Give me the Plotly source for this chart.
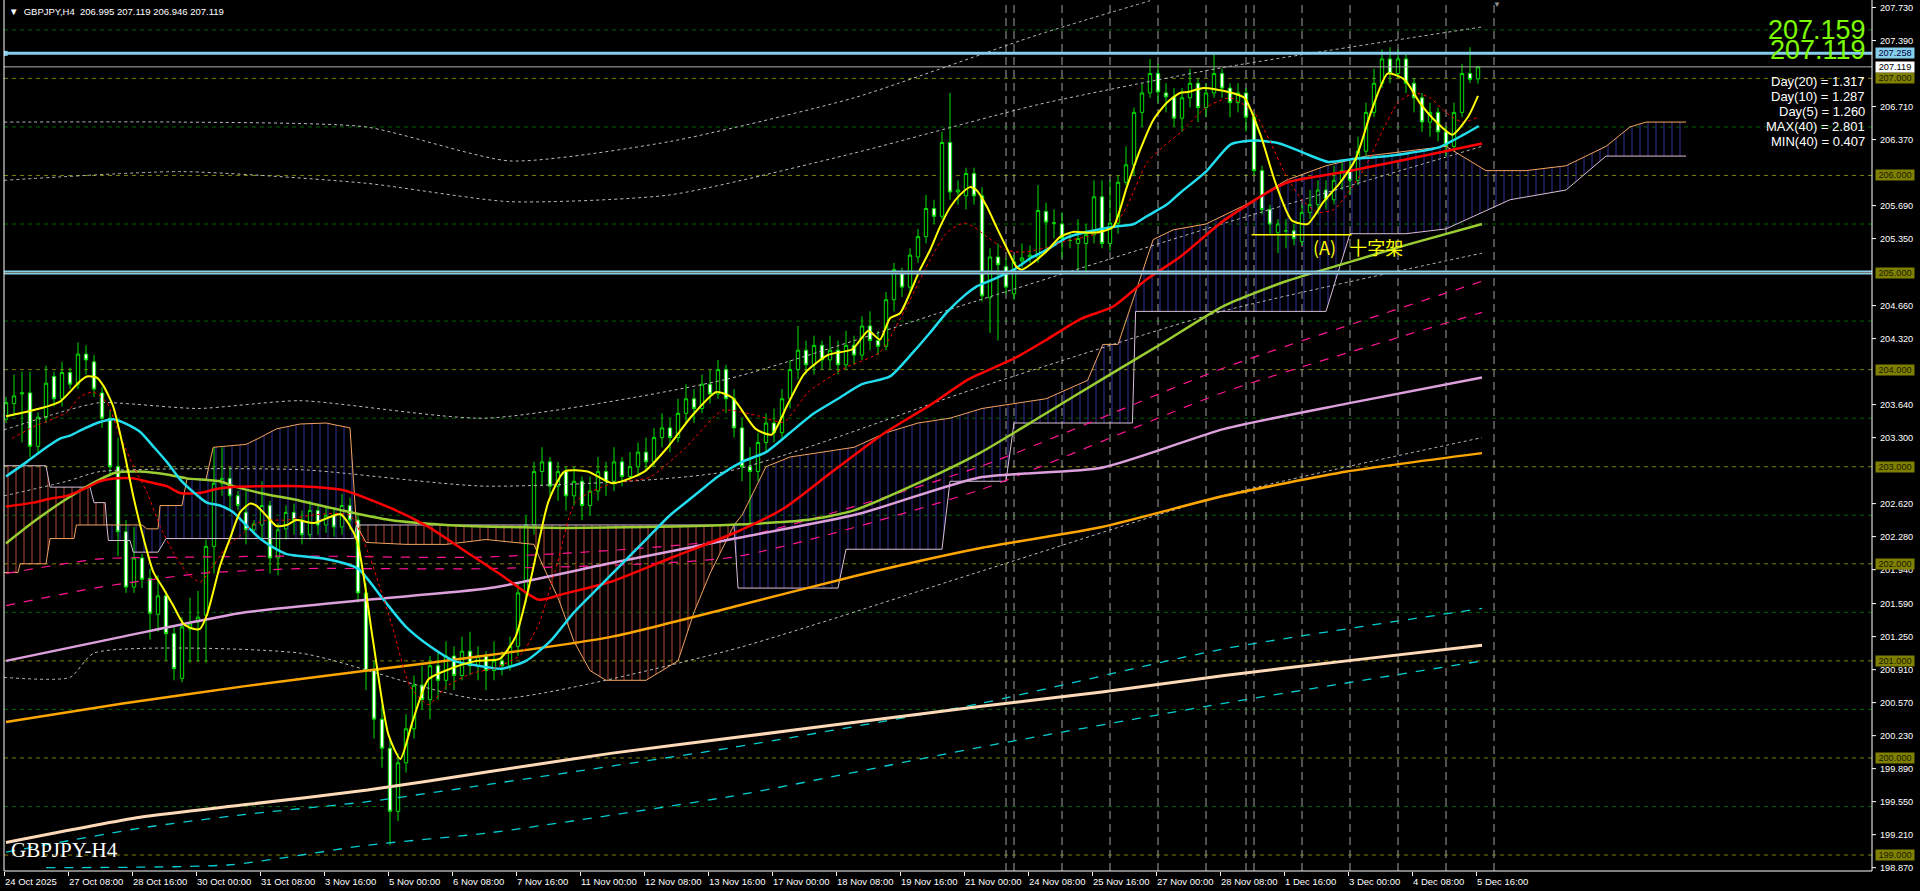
import plotly.graph_objects as go

# ---------------- candle data (bar index 0 = 24 Oct 2025 00:00, H4) ----------------
opens = [203.49,203.65,203.75,203.76,203.21,203.51,203.93,203.70,203.97,203.85,
         204.16,204.08,203.76,203.50,203.00,202.33,201.76,202.06,201.85,201.48,
         201.67,201.28,200.82,201.33,201.40,201.47,202.18,202.83,202.88,202.70,
         202.53,202.35,202.40,202.60,202.06,202.36,202.53,202.45,202.30,202.55,
         202.40,202.50,202.38,202.60,202.45,201.70,200.90,200.40,200.10,199.45,
         199.95,200.30,200.75,200.60,200.95,200.80,201.05,200.85,201.10,200.95,
         201.05,200.90,201.00,200.95,201.15,201.70,202.40,202.95,203.05,202.80,
         202.95,202.70,202.85,202.60,202.75,202.95,202.85,203.05,202.90,203.00,
         203.15,203.05,203.30,203.40,203.30,203.55,203.70,203.60,203.85,203.75,
         204.00,203.70,203.40,203.00,202.95,203.25,203.45,203.35,203.70,204.00,
         204.20,204.05,204.25,204.10,204.20,204.05,204.25,204.15,204.45,204.30,
         204.24,204.72,205.01,204.85,205.16,205.37,205.66,205.58,206.34,205.83,
         205.79,206.02,205.79,204.74,205.16,205.06,204.78,205.12,205.16,205.16,
         205.63,205.51,205.50,205.33,205.30,205.30,205.39,205.78,205.30,205.51,
         205.93,206.11,206.65,206.85,207.05,206.85,206.81,206.59,206.80,206.95,
         206.70,206.85,207.05,206.90,206.75,206.85,206.60,206.05,205.65,205.41,
         205.43,205.43,205.32,205.62,205.70,205.85,205.75,205.95,206.05,205.95,
         206.25,206.65,206.95,207.20,207.05,207.20,206.95,206.80,206.55,206.65,
         206.45,206.30,206.65,207.05,206.995]
closes = [203.66,203.73,203.76,203.21,203.51,203.86,203.70,203.97,203.85,204.16,
          204.10,203.80,203.50,203.00,202.33,201.76,202.06,201.84,201.49,201.67,
          201.28,200.92,201.35,201.38,201.45,202.18,202.83,202.88,202.70,202.60,
          202.35,202.41,202.60,202.06,202.35,202.53,202.45,202.30,202.55,202.40,
          202.50,202.38,202.60,202.45,201.70,200.90,200.40,200.10,199.45,199.95,
          200.30,200.75,200.60,200.95,200.80,201.05,200.85,201.10,200.95,201.05,
          200.90,201.00,200.95,201.15,201.70,202.40,202.95,203.05,202.80,202.95,
          202.70,202.85,202.60,202.75,202.95,202.85,203.05,202.90,203.00,203.15,
          203.05,203.30,203.40,203.30,203.55,203.70,203.60,203.85,203.75,204.00,
          203.70,203.40,203.00,202.95,203.25,203.45,203.35,203.70,204.00,204.20,
          204.05,204.25,204.10,204.20,204.05,204.25,204.15,204.45,204.30,204.24,
          204.72,205.03,204.85,205.18,205.37,205.66,205.58,206.34,205.83,205.85,
          206.02,205.79,204.76,205.16,205.08,204.85,205.11,205.15,205.18,205.64,
          205.52,205.51,205.35,205.33,205.35,205.39,205.78,205.30,205.51,205.93,
          206.11,206.65,206.85,207.05,206.86,206.81,206.59,206.80,206.95,206.70,
          206.85,207.05,206.90,206.75,206.85,206.60,206.05,205.65,205.50,205.50,
          205.43,205.35,205.62,205.70,205.85,205.75,205.95,206.05,205.95,206.25,
          206.65,206.95,207.20,207.05,207.20,206.95,206.80,206.55,206.65,206.45,
          206.30,206.65,207.05,206.99,207.119]
highs = [203.72,203.95,203.98,203.98,203.56,204.04,203.98,204.08,204.02,204.28,
         204.25,204.15,203.82,203.58,203.30,202.45,202.38,202.10,201.95,201.88,
         201.72,201.35,201.45,201.65,201.72,202.25,203.20,203.20,203.00,202.75,
         202.75,202.45,202.85,202.65,202.42,202.60,202.62,202.55,202.65,202.62,
         202.60,202.58,202.72,202.68,202.50,201.80,201.00,200.55,200.20,200.05,
         200.45,200.85,200.95,201.05,201.10,201.20,201.15,201.25,201.30,201.15,
         201.10,201.20,201.10,201.25,201.80,202.50,203.05,203.20,203.10,203.05,
         203.00,203.00,202.90,202.90,203.10,203.05,203.20,203.10,203.15,203.25,
         203.30,203.40,203.55,203.50,203.70,203.85,203.80,203.95,204.00,204.10,
         204.05,203.80,203.50,203.20,203.35,203.55,203.60,203.80,204.10,204.45,
         204.30,204.35,204.30,204.35,204.30,204.40,204.35,204.55,204.60,204.40,
         204.80,205.10,205.05,205.25,205.45,205.80,205.75,206.45,206.85,205.95,
         206.08,206.08,205.88,205.25,205.30,205.15,205.18,205.30,205.28,205.90,
         205.72,205.65,205.62,205.40,205.55,205.50,205.95,205.95,205.95,206.00,
         206.30,206.70,206.95,207.20,207.15,206.95,206.90,206.90,207.10,207.00,
         206.95,207.25,207.10,206.95,206.95,206.90,206.65,206.10,205.70,205.55,
         205.55,205.50,205.70,205.85,205.95,205.95,206.10,206.15,206.15,206.40,
         206.75,207.10,207.30,207.32,207.30,207.25,207.00,206.85,206.75,206.70,
         206.50,206.75,207.15,207.32,207.119]
lows = [203.45,203.52,203.25,203.10,203.12,203.45,203.62,203.62,203.80,203.80,
        203.95,203.72,203.40,202.90,202.08,201.70,201.70,201.75,201.22,201.30,
        201.00,200.80,200.78,200.98,200.99,200.98,201.90,202.70,202.55,202.55,
        202.20,202.30,202.25,201.90,201.88,202.25,202.30,202.20,202.25,202.30,
        202.32,202.28,202.30,202.35,201.60,200.70,200.20,199.90,199.10,199.35,
        199.85,200.20,200.50,200.40,200.60,200.70,200.70,200.80,200.85,200.80,
        200.70,200.80,200.85,200.90,201.05,201.60,202.30,202.80,202.70,202.65,
        202.55,202.60,202.45,202.50,202.65,202.70,202.75,202.80,202.85,202.90,
        202.95,203.00,203.20,203.15,203.25,203.45,203.45,203.55,203.65,203.70,
        203.55,203.30,202.85,202.40,202.85,203.15,203.25,203.30,203.60,203.90,
        203.95,203.95,204.00,204.00,203.95,204.00,204.05,204.10,204.20,204.15,
        204.20,204.60,204.75,204.78,205.10,205.30,205.50,205.55,205.75,205.70,
        205.65,205.70,204.70,204.38,204.30,204.78,204.72,205.05,205.10,205.10,
        205.20,205.35,205.15,205.25,204.98,204.98,205.30,205.25,205.22,205.40,
        205.90,206.00,206.50,206.80,206.75,206.65,206.50,206.45,206.70,206.55,
        206.60,206.80,206.80,206.60,206.65,206.45,206.00,205.60,205.40,205.20,
        205.25,205.28,205.28,205.55,205.60,205.65,205.70,205.85,205.80,205.90,
        206.20,206.60,206.90,206.95,207.00,206.85,206.65,206.45,206.40,206.35,
        206.20,206.25,206.60,206.95,206.946]

# ---------------- axes text ----------------
time_label_idx = [0, 8, 16, 24, 32, 40, 48, 56, 64, 72, 80, 88, 96, 104, 112, 120,
                  128, 136, 144, 152, 160, 168, 176, 184]
time_labels = ["24 Oct 2025", "27 Oct 08:00", "28 Oct 16:00", "30 Oct 00:00", "31 Oct 08:00",
               "3 Nov 16:00", "5 Nov 00:00", "6 Nov 08:00", "7 Nov 16:00", "11 Nov 00:00",
               "12 Nov 08:00", "13 Nov 16:00", "17 Nov 00:00", "18 Nov 08:00", "19 Nov 16:00",
               "21 Nov 00:00", "24 Nov 08:00", "25 Nov 16:00", "27 Nov 00:00", "28 Nov 08:00",
               "1 Dec 16:00", "3 Dec 00:00", "4 Dec 08:00", "5 Dec 16:00"]
price_ticks = [207.73, 207.39, 206.71, 206.37, 205.69, 205.35,
               204.66, 204.32, 203.64, 203.30, 202.62, 202.28, 201.94,
               201.59, 201.25, 200.91, 200.57, 200.23, 199.89, 199.55, 199.21, 198.87]
round_levels = [199, 200, 201, 202, 203, 204, 205, 206, 207]
half_levels = [199.5, 200.5, 201.5, 202.5, 203.5, 204.5, 205.5, 206.5, 207.5]
separator_idx = [125, 126, 132, 138, 144, 150, 155, 156, 162, 168, 174, 180, 186]

hline_blue = 207.258
hline_blue2 = 205.0
bid_price = 207.119
big_numbers = ["207.159", "207.119"]
stats_text = ["Day(20) = 1.317", "Day(10) = 1.287", "Day(5) = 1.260",
              "MAX(40) = 2.801", "MIN(40) = 0.407"]
header_text = "GBPJPY,H4  206.995 207.119 206.946 207.119"
cross_level = 205.39
cross_span = (155.7, 168.2)

# ---------------- indicator lines: (bar index, price) ----------------
ma_yellow = [(0,203.52),(1.75,203.55),(4.7,203.61),(6.75,203.67),(9.25,203.88),(10.1,203.93),
             (11.3,203.92),(12.2,203.83),(13.4,203.62),(14.7,203.18),(15.9,202.70),(17.2,202.26),
             (18.4,201.92),(19.7,201.74),(20.9,201.57),(22.2,201.38),(23.4,201.33),(24.25,201.33),
             (25.1,201.47),(25.9,201.71),(26.75,201.98),(28,202.26),(29.25,202.53),(30.5,202.62),
             (31.3,202.60),(32.6,202.49),(33.8,202.39),(35.1,202.40),(36.3,202.45),(38.5,202.42),
             (41.8,202.51),(43.8,202.26),(45.8,201.25),(47.8,200.24),(49.3,199.99),(50.8,200.37),
             (52.8,200.81),(55.9,200.93),(58.8,201.00),(61.7,201.02),(63.7,201.25),(65.7,201.88),
             (67.8,202.64),(69.8,202.95),(72.7,202.95),(75.8,202.83),(79.8,202.95),(82.7,203.20),
             (85.7,203.52),(88.8,203.77),(90.8,203.71),(93.7,203.39),(95.7,203.33),(97.7,203.64),
             (99.8,203.96),(102.7,204.15),(105.8,204.21),(107.8,204.40),(109.25,204.31),
             (110.5,204.53),(111.75,204.58),(113,204.79),(114.25,205.03),(115.5,205.23),
             (116.75,205.47),(118,205.67),(119.25,205.80),(120.5,205.88),(121.3,205.85),
             (122.6,205.68),(123.8,205.47),(125.1,205.25),(126.3,205.06),(127,205.03),
             (128.5,205.11),(130.2,205.23),(131.8,205.37),(133.5,205.42),(135.2,205.41),
             (136.8,205.42),(138.4,205.47),(140.1,205.88),(141.75,206.26),(143.4,206.57),
             (145.1,206.75),(146.75,206.85),(147.7,206.86),(149.7,206.90),(152.8,206.86),
             (154.8,206.80),(156.8,206.42),(158.7,205.92),(160.7,205.54),(162.7,205.50),
             (164.7,205.73),(166.7,205.92),(168.7,206.17),(170.7,206.67),(172.7,207.05),
             (174.8,206.99),(176.8,206.74),(178.8,206.55),(180.8,206.42),(182.8,206.61),(184,206.82)]
ma_red_dot = [(0.75,203.29),(3.4,203.41),(7.6,203.56),(9.25,203.72),(10.9,203.77),(12.6,203.66),
              (14.25,203.32),(15.9,203.01),(17.6,202.74),(19.25,202.39),(20.9,202.12),(22.6,201.91),
              (24.25,201.81),(25.9,201.98),(27.6,202.18),(29.25,202.29),(30.9,202.40),(32.6,202.45),
              (35.1,202.45),(38,202.50),(43,202.50),(45.2,202.13),(48.2,201.38),(50.5,200.74),
              (52.8,200.55),(55.1,200.74),(58.2,200.87),(61.2,200.93),(64.3,201.06),(66.6,201.38),
              (68.9,202.00),(71.2,202.64),(75.8,202.83),(80.4,202.89),(85,203.20),(89.6,203.58),
              (94.2,203.52),(97.2,203.46),(100.3,203.77),(104.9,204.02),(109.25,204.18),
              (113,204.72),(115.5,205.13),(117.6,205.41),(119.75,205.51),(121,205.47),(122.6,205.37),
              (125.1,205.23),(127.2,205.21),(130.2,205.26),(132.6,205.33),(135.2,205.37),
              (138.4,205.47),(140.1,205.68),(142.6,206.13),(144.7,206.30),(146.75,206.44),
              (150,206.70),(153,206.80),(156,206.65),(158,206.35),(160,206.00),(162,205.75),
              (164,205.62),(166,205.65),(168,205.85),(170,206.10),(172,206.45),(174,206.75),
              (176,206.85),(178,206.80),(180,206.65),(182,206.55),(184,206.60)]
ma_cyan = [(0,202.90),(2.6,203.05),(4.7,203.18),(6.75,203.29),(8,203.32),(9.7,203.39),
           (11.75,203.46),(13.4,203.49),(15.1,203.44),(16.75,203.36),(18.4,203.21),(20.1,203.05),
           (21.75,202.87),(23.4,202.74),(25.1,202.63),(26.75,202.60),(28.4,202.53),(30.1,202.39),
           (31.75,202.26),(33.4,202.17),(35.1,202.10),(36.75,202.08),(40,202.05),(44,201.95),
           (47,201.65),(50,201.35),(53,201.15),(56,201.00),(59,200.95),(62,200.92),(65,201.00),
           (68,201.20),(71,201.50),(74,201.75),(77,202.00),(80,202.25),(83,202.50),(86,202.70),
           (89,202.90),(92,203.05),(95,203.15),(98,203.35),(101,203.55),(104,203.70),(107,203.85),
           (110.5,203.93),(113.4,204.18),(115.5,204.38),(117.6,204.59),(119.75,204.76),
           (121.4,204.86),(123.4,204.93),(126,205.03),(128.1,205.15),(130.2,205.24),(132.6,205.36),
           (135.2,205.42),(138.4,205.47),(141,205.50),(142.6,205.58),(145.1,205.70),(146.75,205.82),
           (150,206.04),(153.1,206.32),(156.1,206.36),(159.2,206.33),(162.3,206.23),(165.3,206.14),
           (168.4,206.17),(171.4,206.19),(175.3,206.23),(179.1,206.29),(182.2,206.42),(184.1,206.51)]
ma_red = [(0,202.59),(3.4,202.63),(5.5,202.67),(7.6,202.70),(9.7,202.77),(11.75,202.85),
          (13.8,202.88),(15.9,202.88),(18,202.84),(20.1,202.80),(21.75,202.73),(24.25,202.73),
          (26.3,202.77),(28.4,202.79),(32.6,202.80),(36.75,202.80),(42.1,202.76),(48.2,202.57),
          (52.8,202.38),(57.4,202.13),(62,201.88),(66.6,201.63),(69.7,201.69),(75.8,201.82),
          (83.4,202.07),(91.1,202.32),(97.2,202.57),(103.3,202.95),(109.5,203.33),(115.6,203.64),
          (120.3,203.90),(125.9,204.11),(130.1,204.31),(134.3,204.52),(138.4,204.65),(142.6,204.93),
          (146.75,205.16),(152.3,205.54),(159.9,205.92),(167.6,206.04),(175.3,206.17),(184.5,206.33)]
ma_lime = [(0,202.21),(3.4,202.43),(7.6,202.67),(11.75,202.87),(13.8,202.94),(16.75,202.95),
           (20.1,202.92),(22.6,202.88),(26.75,202.85),(28.4,202.80),(31.75,202.73),(36.75,202.65),
           (42,202.55),(48,202.45),(55,202.40),(62,202.38),(70,202.37),(80,202.38),(90,202.40),
           (100,202.45),(106,202.55),(114,202.83),(121.7,203.14),(129.4,203.52),(137,203.90),
           (144.7,204.28),(152.3,204.66),(160,204.91),(167.6,205.10),(175.3,205.29),(184.5,205.50)]
ma_plum = [(0,201.00),(14.6,201.25),(29.9,201.50),(45.2,201.63),(60.5,201.75),(75.8,202.01),
           (91.1,202.26),(106.4,202.51),(121.7,202.89),(137,202.99),(152.3,203.39),(167.6,203.65),
           (184.5,203.92)]
ma_orange = [(0,200.37),(14.6,200.56),(29.9,200.74),(45.2,200.90),(60.5,201.06),(75.8,201.25),
             (91.1,201.56),(106.4,201.88),(121.7,202.16),(137,202.38),(152.3,202.70),(167.6,202.95),
             (184.5,203.14)]
ma_bisque = [(0,199.13),(16.75,199.39),(30,199.52),(45.2,199.67),(60.5,199.86),(75.8,200.05),
             (91.1,200.21),(106.4,200.37),(121.7,200.53),(137,200.68),(152.3,200.85),(167.6,201.00),
             (184.5,201.16)]
env_cyan_upper = [(0,199.03),(17,199.28),(30,199.42),(45.2,199.55),(60.5,199.73),(91,200.11),
                  (121.7,200.56),(152,201.12),(184.5,201.54)]
env_cyan_lower = [(5,198.87),(28,198.90),(45,199.10),(60.5,199.23),(91,199.61),(121.7,200.11),
                  (152,200.56),(184.5,201.00)]
env_pink_upper = [(0,201.90),(11.75,202.05),(24.25,202.07),(36.75,202.08),(60,202.07),(91,202.26),
                  (121.7,203.00),(152.3,204.02),(184.5,204.91)]
env_pink_lower = [(0,201.57),(11.75,201.76),(24.25,201.90),(36.75,201.95),(60,201.95),(91,202.07),
                  (121.7,202.76),(152.3,203.77),(184.5,204.59)]
gray_bands = [
    [(-0.25,206.55),(22,206.55),(45,206.50),(63,206.15),(83,206.35),(106,206.80),(129,207.45),(143,207.80)],
    [(-0.25,205.95),(22,206.04),(45,205.92),(63,205.73),(83,205.80),(106,206.23),(129,206.73),(152,207.11),(184.5,207.53)],
    [(-0.25,203.38),(7.6,203.58),(11.75,203.66),(24,203.60),(36.75,203.68),(60,203.50),(90,203.90),(121,204.70),(152,205.50),(184.5,206.30)],
    [(-0.25,202.70),(7.6,202.85),(11.75,202.95),(36.75,202.97),(60,202.80),(90,202.95),(121,203.80),(152,204.60),(184.5,205.20)],
    [(-0.25,200.83),(8,200.83),(11,201.08),(36.75,201.08),(60,200.60),(90,201.10),(121,201.90),(152,202.70),(184.5,203.30)],
]

# Ichimoku spans (shifted 26 bars ahead)
span_a = [(-0.25,201.91),(1.5,201.91),(1.75,202.00),(5,202.00),(5.5,202.26),(8.5,202.26),(8.8,202.40),
          (12.6,202.40),(17,202.40),(17.6,202.36),(19,202.36),(19.25,202.60),(22,202.60),(22.6,202.87),
          (25,202.87),(25.9,203.20),(30,203.23),(31.75,203.30),(33.8,203.39),(36.75,203.44),(40,203.45),
          (43,203.40),(43.8,202.40),(45,202.22),(50,202.20),(55,202.20),(60,202.25),(66,202.20),
          (67,202.00),(69,201.65),(71,201.20),(73,200.90),(75,200.80),(80,200.80),(84,201.00),
          (86,201.50),(88,201.90),(91,202.40),(92,202.50),(95,203.00),(98,203.10),(102,203.15),
          (106,203.20),(110,203.35),(114,203.45),(118,203.50),(122,203.60),(126,203.65),(130,203.70),
          (135.2,203.89),(137.1,204.26),(139,204.26),(143.4,205.34),(145.9,205.44),(150,205.50),
          (155,205.70),(160,205.95),(165,206.10),(170,206.20),(175,206.25),(180,206.30),(185,206.05),
          (190,206.05),(195,206.10),(200,206.30),(203,206.50),(205,206.55),(210,206.55)]
span_b = [(-0.25,203.01),(5,203.01),(5.5,202.79),(10.5,202.79),(11,202.63),(12.4,202.63),(12.6,202.40),
          (12.8,202.24),(15.5,202.24),(15.9,202.12),(19,202.12),(20,202.26),(25,202.26),(43.5,202.26),
          (43.8,202.40),(66,202.40),(91,202.40),(91.5,201.75),(104,201.75),(105,202.15),(117,202.15),
          (118,202.85),(125,202.85),(126,203.45),(140.8,203.45),(141.2,204.60),(155,204.60),
          (165,204.60),(168,205.40),(175,205.40),(180,205.45),(184,205.60),(188,205.75),(195,205.85),
          (200,206.20),(210,206.20)]
cloud_bear_ranges = [(-0.25, 12.6), (43.8, 91.0)]
cloud_bull_ranges = [(12.6, 43.8), (91.0, 210.0)]

# ---------------- geometry helpers (pixels -> paper) ----------------
W, H = 1920, 891
PL, PR, PB = 4, 1872, 871
def pxx(px):
    return (px - PL) / (PR - PL)
def pxy(py):
    return 1 - py / PB

GREEN = "#00E000"
fig = go.Figure()

def xs(pts): return [p[0] for p in pts]
def ys(pts): return [p[1] for p in pts]
def seg(pts, a, b): return [p for p in pts if a - 1e-6 <= p[0] <= b + 1e-6]

# cloud hatching
for ranges, col in [(cloud_bear_ranges, "#A0402F"), (cloud_bull_ranges, "#2A2A8A")]:
    for a, b in ranges:
        sa, sb = seg(span_a, a, b), seg(span_b, a, b)
        fig.add_trace(go.Scatter(x=xs(sa), y=ys(sa), mode="lines", line=dict(width=0),
                                 hoverinfo="skip", showlegend=False))
        fig.add_trace(go.Scatter(x=xs(sb), y=ys(sb), mode="lines", line=dict(width=0),
                                 fill="tonexty", fillcolor="rgba(0,0,0,0)",
                                 fillpattern=dict(shape="|", size=8, solidity=0.14, fgcolor=col,
                                                  bgcolor="rgba(0,0,0,0)", fillmode="replace"),
                                 hoverinfo="skip", showlegend=False))

def line(pts, color, width, dash="solid", shape="linear"):
    fig.add_trace(go.Scatter(x=xs(pts), y=ys(pts), mode="lines",
                             line=dict(color=color, width=width, dash=dash, shape=shape, smoothing=0.6),
                             hoverinfo="skip", showlegend=False))

line(span_a, "#F4A460", 1)
line(span_b, "#D8BFD8", 1)
for g in gray_bands:
    line(g, "#BBBBBB", 1, "dot", "spline")
line(env_cyan_upper, "#00CED1", 1.3, "dash", "spline")
line(env_cyan_lower, "#00CED1", 1.3, "dash", "spline")
line(env_pink_upper, "#FF1493", 1.2, "dash", "spline")
line(env_pink_lower, "#FF1493", 1.2, "dash", "spline")
line(ma_bisque, "#FFDAB9", 3, shape="spline")
line(ma_orange, "#FFA500", 2.5, shape="spline")
line(ma_plum, "#DDA0DD", 2.5, shape="spline")
line(ma_lime, "#9ACD32", 2.5, shape="spline")
line(ma_red, "#FF0000", 2.5, shape="spline")
line(ma_cyan, "#22DDEE", 2.5, shape="spline")
line(ma_red_dot, "#FF0000", 1, "dot", "spline")
line(ma_yellow, "#FFFF00", 2, shape="spline")

# candles
fig.add_trace(go.Candlestick(
    x=list(range(len(closes))), open=opens, high=highs, low=lows, close=closes,
    increasing=dict(line=dict(color=GREEN, width=1), fillcolor="#000000"),
    decreasing=dict(line=dict(color=GREEN, width=1), fillcolor="#FFFFFF"),
    whiskerwidth=0, hoverinfo="skip", showlegend=False))

# cross annotation line
fig.add_trace(go.Scatter(x=list(cross_span), y=[cross_level, cross_level], mode="lines",
                         line=dict(color="#FFFF00", width=1.5), hoverinfo="skip", showlegend=False))
# small anchor square of the blue line
fig.add_trace(go.Scatter(x=[-0.1], y=[hline_blue], mode="markers",
                         marker=dict(symbol="square", size=5, color="#87CEEB"),
                         hoverinfo="skip", showlegend=False))

shapes = []
for lv in round_levels:
    shapes.append(dict(type="line", xref="paper", x0=0, x1=1, yref="y", y0=lv, y1=lv,
                       line=dict(color="#808000", width=1, dash="4px,4px"), layer="below"))
for lv in half_levels:
    shapes.append(dict(type="line", xref="paper", x0=0, x1=1, yref="y", y0=lv, y1=lv,
                       line=dict(color="#006400", width=1, dash="4px,4px"), layer="below"))
for sx in separator_idx:
    shapes.append(dict(type="line", xref="x", x0=sx, x1=sx, yref="paper", y0=0, y1=1,
                       line=dict(color="#A0A0A0", width=1, dash="8px,5px"), layer="below"))
shapes.append(dict(type="line", xref="paper", x0=0, x1=1, yref="y", y0=hline_blue, y1=hline_blue,
                   line=dict(color="#87CEEB", width=3)))
shapes.append(dict(type="line", xref="paper", x0=0, x1=1, yref="y", y0=hline_blue2, y1=hline_blue2,
                   line=dict(color="#87CEEB", width=4)))
shapes.append(dict(type="line", xref="paper", x0=0, x1=1, yref="y", y0=hline_blue2, y1=hline_blue2,
                   line=dict(color="#707070", width=1)))
shapes.append(dict(type="line", xref="paper", x0=0, x1=1, yref="y", y0=bid_price, y1=bid_price,
                   line=dict(color="#B0B0B0", width=1)))
# frame
shapes.append(dict(type="line", xref="paper", x0=0, x1=0, yref="paper", y0=0, y1=1,
                   line=dict(color="#FFFFFF", width=1)))
shapes.append(dict(type="line", xref="paper", x0=0, x1=1, yref="paper", y0=0, y1=0,
                   line=dict(color="#FFFFFF", width=1)))
shapes.append(dict(type="line", xref="paper", x0=1, x1=1, yref="paper", y0=0, y1=1,
                   line=dict(color="#FFFFFF", width=1)))
for p in price_ticks:
    shapes.append(dict(type="line", xref="paper", x0=1, x1=1 + 4 / (PR - PL), yref="y", y0=p, y1=p,
                       line=dict(color="#FFFFFF", width=1)))

ann = []
AF = "Liberation Sans"
for p in price_ticks:
    ann.append(dict(xref="paper", x=1, xanchor="left", xshift=6, yref="y", y=p, yanchor="middle",
                    text=f"{p:.3f}", showarrow=False, font=dict(family=AF, size=9.2, color="#FFFFFF")))
for lv in round_levels:
    ann.append(dict(xref="paper", x=1, xanchor="left", xshift=3, yref="y", y=lv, yanchor="middle",
                    text=f"{lv:.3f}", showarrow=False, bgcolor="#808000", width=38, borderpad=0,
                    font=dict(family=AF, size=9.2, color="#1A1A00")))
ann.append(dict(xref="paper", x=1, xanchor="left", xshift=3, yref="y", y=hline_blue, yanchor="middle",
                text=f"{hline_blue:.3f}", showarrow=False, bgcolor="#87CEEB", width=38, borderpad=0,
                font=dict(family=AF, size=9.2, color="#000040")))
ann.append(dict(xref="paper", x=1, xanchor="left", xshift=3, yref="y", y=bid_price, yanchor="middle",
                text=f"{bid_price:.3f}", showarrow=False, bgcolor="#FFFFFF", width=38, borderpad=0,
                font=dict(family=AF, size=9.2, color="#000000")))
for i, t in zip(time_label_idx, time_labels):
    ann.append(dict(xref="x", x=i, xanchor="left", xshift=-3, yref="paper", y=pxy(881), yanchor="middle",
                    text=t, showarrow=False, font=dict(family=AF, size=9.5, color="#FFFFFF")))
ann.append(dict(xref="paper", x=pxx(7), xanchor="left", yref="paper", y=pxy(12), yanchor="middle",
                text="\u25BC  " + header_text, showarrow=False,
                font=dict(family=AF, size=9.5, color="#FFFFFF")))
for k, t in enumerate(big_numbers):
    ann.append(dict(xref="paper", x=pxx(1868), xanchor="right", yref="paper", y=pxy(30 + 20 * k),
                    yanchor="middle", text=t, showarrow=False,
                    font=dict(family=AF, size=27, color="#7CFC00")))
for k, t in enumerate(stats_text):
    ann.append(dict(xref="paper", x=pxx(1867), xanchor="right", yref="paper", y=pxy(82 + 15 * k),
                    yanchor="middle", text=t, showarrow=False,
                    font=dict(family=AF, size=13, color="#FFFFFF")))
ann.append(dict(xref="paper", x=pxx(1311), xanchor="left", yref="paper", y=pxy(247), yanchor="middle",
                text="(A)\u2002 十字架", showarrow=False,
                font=dict(family="Noto Sans CJK JP", size=18, color="#FFFF00")))
ann.append(dict(xref="paper", x=pxx(9), xanchor="left", yref="paper", y=pxy(850), yanchor="middle",
                text="GBPJPY-H4", showarrow=False,
                font=dict(family="Liberation Serif", size=21, color="#FFFFFF")))
ann.append(dict(xref="paper", x=pxx(1497), xanchor="center", yref="paper", y=pxy(4), yanchor="middle",
                text="\u25BC", showarrow=False, font=dict(family=AF, size=8, color="#909090")))

fig.update_layout(
    width=W, height=H, margin=dict(l=PL, r=W - PR, t=0, b=H - PB),
    paper_bgcolor="#000000", plot_bgcolor="#000000",
    showlegend=False, shapes=shapes, annotations=ann, boxgap=0.4,
    xaxis=dict(range=[-0.25, 233.25], showgrid=False, zeroline=False, showticklabels=False,
               rangeslider=dict(visible=False), tickvals=[i - 0.2 for i in time_label_idx],
               ticks="outside", ticklen=4, tickcolor="#FFFFFF", showline=False, fixedrange=True),
    yaxis=dict(range=[198.8356, 207.8076], showgrid=False, zeroline=False, showticklabels=False,
               side="right", fixedrange=True),
)
fig.write_html("out.html", config={"displayModeBar": False},
               post_script="document.body.style.margin='0px';document.body.style.overflow='hidden';")
